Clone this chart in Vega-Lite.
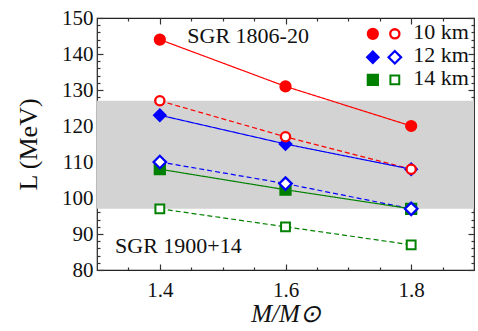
{
  "$schema": "https://vega.github.io/schema/vega-lite/v6.json",
  "width": 377,
  "height": 252,
  "autosize": {"type": "none"},
  "padding": {"left": 97, "top": 18, "right": 4, "bottom": 61},
  "background": "white",
  "config": {
    "view": {"stroke": "#222", "strokeWidth": 1.2},
    "font": "Liberation Serif",
    "axis": {
      "grid": false,
      "domain": false,
      "tickColor": "#333",
      "tickWidth": 1.2,
      "labelFont": "Liberation Serif",
      "labelFontSize": 21,
      "labelColor": "#111",
      "titleFont": "Liberation Serif",
      "titleFontSize": 26,
      "titleFontWeight": "normal",
      "titleColor": "#111"
    }
  },
  "datasets": {
    "pts": [
      {"role": "data", "mass": 1.4, "L": 144, "radius": "10 km", "type": "filled", "series": "10 km filled"},
      {"role": "data", "mass": 1.6, "L": 131, "radius": "10 km", "type": "filled", "series": "10 km filled"},
      {"role": "data", "mass": 1.8, "L": 120, "radius": "10 km", "type": "filled", "series": "10 km filled"},
      {"role": "data", "mass": 1.4, "L": 127, "radius": "10 km", "type": "open", "series": "10 km open"},
      {"role": "data", "mass": 1.6, "L": 117, "radius": "10 km", "type": "open", "series": "10 km open"},
      {"role": "data", "mass": 1.8, "L": 108, "radius": "10 km", "type": "open", "series": "10 km open"},
      {"role": "data", "mass": 1.4, "L": 123, "radius": "12 km", "type": "filled", "series": "12 km filled"},
      {"role": "data", "mass": 1.6, "L": 115, "radius": "12 km", "type": "filled", "series": "12 km filled"},
      {"role": "data", "mass": 1.8, "L": 108, "radius": "12 km", "type": "filled", "series": "12 km filled"},
      {"role": "data", "mass": 1.4, "L": 110, "radius": "12 km", "type": "open", "series": "12 km open"},
      {"role": "data", "mass": 1.6, "L": 104, "radius": "12 km", "type": "open", "series": "12 km open"},
      {"role": "data", "mass": 1.8, "L": 97, "radius": "12 km", "type": "open", "series": "12 km open"},
      {"role": "data", "mass": 1.4, "L": 108, "radius": "14 km", "type": "filled", "series": "14 km filled"},
      {"role": "data", "mass": 1.6, "L": 102.3, "radius": "14 km", "type": "filled", "series": "14 km filled"},
      {"role": "data", "mass": 1.8, "L": 97, "radius": "14 km", "type": "filled", "series": "14 km filled"},
      {"role": "data", "mass": 1.4, "L": 97, "radius": "14 km", "type": "open", "series": "14 km open"},
      {"role": "data", "mass": 1.6, "L": 92, "radius": "14 km", "type": "open", "series": "14 km open"},
      {"role": "data", "mass": 1.8, "L": 87, "radius": "14 km", "type": "open", "series": "14 km open"},
      {"role": "legend", "mass": 1.739, "L": 145.6, "radius": "10 km", "type": "filled", "series": "10 km filled"},
      {"role": "legend", "mass": 1.774, "L": 145.6, "radius": "10 km", "type": "open", "series": "10 km open"},
      {"role": "legend", "mass": 1.739, "L": 139.1, "radius": "12 km", "type": "filled", "series": "12 km filled"},
      {"role": "legend", "mass": 1.774, "L": 139.1, "radius": "12 km", "type": "open", "series": "12 km open"},
      {"role": "legend", "mass": 1.739, "L": 132.8, "radius": "14 km", "type": "filled", "series": "14 km filled"},
      {"role": "legend", "mass": 1.774, "L": 132.8, "radius": "14 km", "type": "open", "series": "14 km open"}
    ],
    "labels": [
      {"text": "10 km", "mass": 1.8034, "L": 144.2},
      {"text": "12 km", "mass": 1.8034, "L": 137.7},
      {"text": "14 km", "mass": 1.8034, "L": 131.4},
      {"text": "SGR 1806-20", "mass": 1.4437, "L": 143.05},
      {"text": "SGR 1900+14", "mass": 1.3287, "L": 84.7}
    ]
  },
  "layer": [
    {
      "data": {"values": [{"lo": 97, "hi": 127}]},
      "mark": {"type": "rect", "color": "#d3d3d3"},
      "encoding": {
        "y": {"field": "lo", "type": "quantitative", "scale": {"domain": [80, 150], "nice": false, "zero": false}, "axis": null},
        "y2": {"field": "hi"}
      }
    },
    {
      "data": {"name": "pts"},
      "transform": [{"filter": "datum.role === 'data'"}],
      "mark": {"type": "line", "strokeWidth": 1.2},
      "encoding": {
        "x": {"field": "mass", "type": "quantitative", "scale": {"domain": [1.3, 1.9], "nice": false, "zero": false},
              "axis": {"orient": "bottom", "values": [1.4, 1.6, 1.8], "format": ".1f", "tickSize": -6, "labelPadding": 15, "title": "M/M⊙", "titleFontStyle": "italic", "titleFontSize": 25, "titlePadding": 1}},
        "y": {"field": "L", "type": "quantitative", "scale": {"domain": [80, 150], "nice": false, "zero": false},
              "axis": {"orient": "left", "values": [80, 90, 100, 110, 120, 130, 140, 150], "tickSize": -6, "labelPadding": 10, "title": "L (MeV)", "titlePadding": 20}},
        "color": {"field": "radius", "type": "nominal", "scale": {"domain": ["10 km", "12 km", "14 km"], "range": ["#ff0000", "#0000ff", "#008000"]}, "legend": null},
        "strokeDash": {"field": "type", "type": "nominal", "scale": {"domain": ["filled", "open"], "range": [[1, 0], [5, 3]]}, "legend": null},
        "detail": {"field": "series", "type": "nominal"}
      }
    },
    {
      "data": {"name": "pts"},
      "transform": [{"filter": "datum.series === '14 km filled'"}],
      "mark": {"type": "point", "shape": "square", "fill": "#008000", "stroke": "#008000", "strokeWidth": 2, "size": 105, "opacity": 1, "fillOpacity": 1},
      "encoding": {
        "x": {"field": "mass", "type": "quantitative", "scale": {"domain": [1.3, 1.9], "nice": false, "zero": false},
              "axis": {"orient": "top", "values": [1.4, 1.6, 1.8], "tickSize": -6, "labels": false, "title": null}},
        "y": {"field": "L", "type": "quantitative", "scale": {"domain": [80, 150], "nice": false, "zero": false},
              "axis": {"orient": "right", "values": [80, 90, 100, 110, 120, 130, 140, 150], "tickSize": -6, "labels": false, "title": null}}
      }
    },
    {
      "data": {"name": "pts"},
      "transform": [{"filter": "datum.series === '14 km open'"}],
      "mark": {"type": "point", "shape": "square", "fill": "white", "stroke": "#008000", "strokeWidth": 2, "size": 78, "opacity": 1, "fillOpacity": 1},
      "encoding": {
        "x": {"field": "mass", "type": "quantitative", "scale": {"domain": [1.3, 1.9], "nice": false, "zero": false},
              "axis": {"orient": "bottom", "values": [1.35, 1.45, 1.5, 1.55, 1.65, 1.7, 1.75, 1.85], "tickSize": -3, "labels": false, "title": null}},
        "y": {"field": "L", "type": "quantitative", "scale": {"domain": [80, 150], "nice": false, "zero": false},
              "axis": {"orient": "left", "values": [82, 84, 86, 88, 92, 94, 96, 98, 102, 104, 106, 108, 112, 114, 116, 118, 122, 124, 126, 128, 132, 134, 136, 138, 142, 144, 146, 148], "tickSize": -3, "labels": false, "title": null}}
      }
    },
    {
      "data": {"name": "pts"},
      "transform": [{"filter": "datum.series === '12 km filled'"}],
      "mark": {"type": "point", "shape": "diamond", "fill": "#0000ff", "stroke": "#0000ff", "strokeWidth": 2, "size": 135, "opacity": 1, "fillOpacity": 1},
      "encoding": {
        "x": {"field": "mass", "type": "quantitative", "scale": {"domain": [1.3, 1.9], "nice": false, "zero": false},
              "axis": {"orient": "top", "values": [1.35, 1.45, 1.5, 1.55, 1.65, 1.7, 1.75, 1.85], "tickSize": -3, "labels": false, "title": null}},
        "y": {"field": "L", "type": "quantitative", "scale": {"domain": [80, 150], "nice": false, "zero": false},
              "axis": {"orient": "right", "values": [82, 84, 86, 88, 92, 94, 96, 98, 102, 104, 106, 108, 112, 114, 116, 118, 122, 124, 126, 128, 132, 134, 136, 138, 142, 144, 146, 148], "tickSize": -3, "labels": false, "title": null}}
      }
    },
    {
      "data": {"name": "pts"},
      "transform": [{"filter": "datum.series === '12 km open'"}],
      "mark": {"type": "point", "shape": "diamond", "fill": "white", "stroke": "#0000ff", "strokeWidth": 2.3, "size": 155, "opacity": 1, "fillOpacity": 1},
      "encoding": {
        "x": {"field": "mass", "type": "quantitative", "scale": {"domain": [1.3, 1.9], "nice": false, "zero": false}, "axis": null},
        "y": {"field": "L", "type": "quantitative", "scale": {"domain": [80, 150], "nice": false, "zero": false}, "axis": null}
      }
    },
    {
      "data": {"name": "pts"},
      "transform": [{"filter": "datum.series === '10 km filled'"}],
      "mark": {"type": "point", "shape": "circle", "fill": "#ff0000", "stroke": "#ff0000", "strokeWidth": 2, "size": 105, "opacity": 1, "fillOpacity": 1},
      "encoding": {
        "x": {"field": "mass", "type": "quantitative", "scale": {"domain": [1.3, 1.9], "nice": false, "zero": false}, "axis": null},
        "y": {"field": "L", "type": "quantitative", "scale": {"domain": [80, 150], "nice": false, "zero": false}, "axis": null}
      }
    },
    {
      "data": {"name": "pts"},
      "transform": [{"filter": "datum.series === '10 km open'"}],
      "mark": {"type": "point", "shape": "circle", "fill": "white", "stroke": "#ff0000", "strokeWidth": 2.3, "size": 85, "opacity": 1, "fillOpacity": 1},
      "encoding": {
        "x": {"field": "mass", "type": "quantitative", "scale": {"domain": [1.3, 1.9], "nice": false, "zero": false}, "axis": null},
        "y": {"field": "L", "type": "quantitative", "scale": {"domain": [80, 150], "nice": false, "zero": false}, "axis": null}
      }
    },
    {
      "data": {"name": "labels"},
      "mark": {"type": "text", "align": "left", "baseline": "alphabetic", "fontSize": 22, "font": "Liberation Serif", "color": "#111"},
      "encoding": {
        "x": {"field": "mass", "type": "quantitative", "scale": {"domain": [1.3, 1.9], "nice": false, "zero": false}, "axis": null},
        "y": {"field": "L", "type": "quantitative", "scale": {"domain": [80, 150], "nice": false, "zero": false}, "axis": null},
        "text": {"field": "text"}
      }
    }
  ],
  "resolve": {"axis": {"x": "independent", "y": "independent"}}
}
